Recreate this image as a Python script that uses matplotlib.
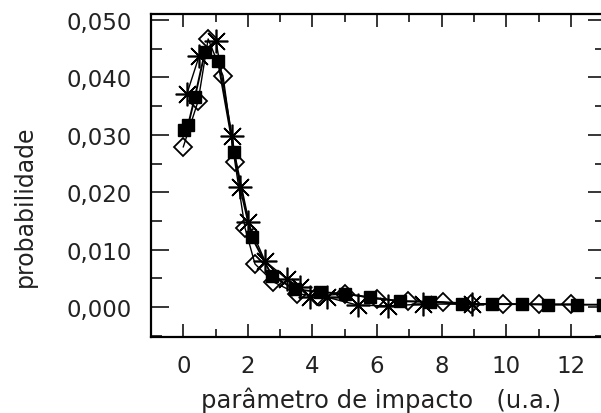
# Libraries
import matplotlib
matplotlib.use('Agg')
import matplotlib.pyplot as plt
from matplotlib.ticker import MultipleLocator, FuncFormatter

# Data
x_quad = [0.02, 0.15, 0.36, 0.67, 1.07, 1.57, 2.12, 2.75, 3.45, 4.23, 5.0, 5.78, 6.71, 7.64, 8.63, 9.55, 10.5, 11.3, 12.2, 13.0]
p_quad = [0.0308, 0.0317, 0.0366, 0.0444, 0.0429, 0.0270, 0.0122, 0.0054, 0.0031, 0.0026, 0.0023, 0.0017, 0.0010, 0.0009, 0.0005, 0.0005, 0.0005, 0.0004, 0.0004, 0.0004]

x_losango = [0.0, 0.46, 0.77, 1.23, 1.60, 1.91, 2.22, 2.78, 3.52, 4.14, 5.0, 6.0, 6.95, 8.05, 8.9, 9.9, 11.0, 12.0]
p_losango = [0.0279, 0.0359, 0.0467, 0.0403, 0.0252, 0.0138, 0.0075, 0.0044, 0.0023, 0.0019, 0.0023, 0.0014, 0.0010, 0.0009, 0.0006, 0.0005, 0.0005, 0.0005]

x_aster = [0.11, 0.49, 1.01, 1.51, 1.75, 2.0, 2.53, 3.2, 3.6, 3.92, 4.45, 5.42, 6.35, 7.43, 8.93]
p_aster = [0.0371, 0.0437, 0.0464, 0.0298, 0.0209, 0.0148, 0.0080, 0.0049, 0.0035, 0.0017, 0.0017, 0.0003, 0.0002, 0.0005, 0.0005]

# Figure
fig = plt.figure(figsize=(6.01, 4.14), dpi=100)
# right spine sits just past the picture edge, as in the reference
ax = fig.add_axes([151 / 601, 76 / 414, 455 / 601, 323 / 414])

ax.plot(x_quad, p_quad, color='black', lw=1.4, marker='s', ms=8.5, mfc='black', mec='black')
ax.plot(x_losango, p_losango, color='black', lw=1.0, marker='D', ms=9.5, mfc='none', mec='black', mew=1.3)
ax.plot(x_aster, p_aster, color='black', lw=1.0, marker=(8, 2, 0), ms=17, mec='black', mew=1.2)

ax.set_xlim(-1, 13.09)
ax.set_ylim(-0.00523, 0.05105)

ax.xaxis.set_major_locator(MultipleLocator(2))
ax.xaxis.set_minor_locator(MultipleLocator(1))
ax.yaxis.set_major_locator(MultipleLocator(0.01))
ax.yaxis.set_minor_locator(MultipleLocator(0.005))
ax.yaxis.set_major_formatter(FuncFormatter(lambda v, pos: f'{v:.3f}'.replace('.', ',').replace('-', '')))

ax.tick_params(axis='both', which='both', direction='in', top=True, right=True, width=1.1)
ax.tick_params(axis='y', which='major', length=13, pad=14, labelsize=16.5, labelcolor='#222222')
ax.tick_params(axis='y', which='minor', length=8)
ax.tick_params(axis='x', which='major', length=9.5, pad=12, labelsize=16.5, labelcolor='#222222')
ax.tick_params(axis='x', which='minor', length=5.5)
for s in ax.spines.values():
    s.set_linewidth(1.6)

ax.set_xlabel('parâmetro de impacto   (u.a.)', fontsize=17.5, color='#222222', va='center')
ax.xaxis.set_label_coords(230 / 455, -62 / 323)
ax.set_ylabel('probabilidade', fontsize=17, color='#222222', va='center')
ax.yaxis.set_label_coords(-126 / 455, 132 / 323)

fig.savefig('out.png', dpi=100)
